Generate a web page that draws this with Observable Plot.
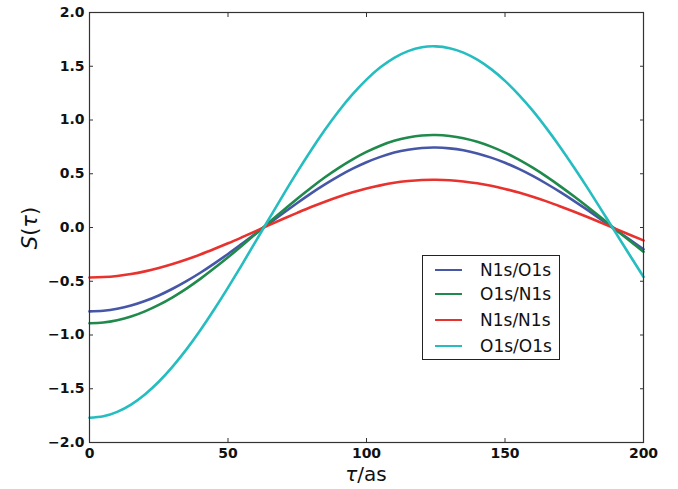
<!DOCTYPE html>
<html>
<head>
<meta charset="utf-8">
<script src="https://cdn.jsdelivr.net/npm/d3@7"></script>
<script src="https://cdn.jsdelivr.net/npm/@observablehq/plot@0.6"></script>
<style>
  html, body { margin: 0; padding: 0; background: #fff; }
  #wrap { position: relative; width: 678px; height: 489px; font-family: "DejaVu Sans", sans-serif; color: #111; }
  #wrap svg { position: absolute; left: 0; top: 0; }
  .ylab { position: absolute; left: 30px; top: 228px; transform: translate(-50%, -50%) rotate(-90deg); font-size: 21px; white-space: nowrap; line-height: 1; }
  .xlab { position: absolute; left: 366px; top: 464px; transform: translateX(-50%); font-size: 20px; white-space: nowrap; line-height: 1; }
  .legend { position: absolute; left: 422px; top: 255px; width: 136px; height: 103px; border: 1px solid #222; background: #fff; }
  .row { position: absolute; left: 0; height: 20px; font-size: 17px; line-height: 1; }
  .swatch { position: absolute; left: 12px; width: 27px; height: 0; border-top: 2.6px solid; top: 9px; }
  .lbl { position: absolute; left: 57px; top: 2px; white-space: nowrap; }
</style>
</head>
<body>
<div id="wrap"></div>
<script>
// tau in attoseconds
const tau = [0, 5, 10, 15, 20, 25, 30, 35, 40, 45, 50, 55, 60, 65, 70, 75, 80, 85, 90, 95, 100,
             105, 110, 115, 120, 125, 130, 135, 140, 145, 150, 155, 160, 165, 170, 175, 180, 185, 190, 195, 200];
// S(tau)
const n1sO1s = [-0.780, -0.774, -0.756, -0.726, -0.684, -0.632, -0.570, -0.499, -0.421, -0.336, -0.246, -0.152, -0.057, 0.040, 0.135, 0.228, 0.318, 0.401, 0.478, 0.547, 0.607,
                0.657, 0.697, 0.724, 0.740, 0.744, 0.736, 0.718, 0.689, 0.650, 0.602, 0.545, 0.480, 0.407, 0.329, 0.246, 0.159, 0.069, -0.022, -0.112, -0.202];
const o1sN1s = [-0.890, -0.883, -0.862, -0.828, -0.780, -0.720, -0.649, -0.568, -0.478, -0.380, -0.277, -0.169, -0.059, 0.051, 0.161, 0.268, 0.370, 0.467, 0.555, 0.634, 0.703,
                0.761, 0.806, 0.837, 0.856, 0.860, 0.851, 0.830, 0.797, 0.752, 0.697, 0.631, 0.556, 0.473, 0.383, 0.288, 0.188, 0.085, -0.019, -0.123, -0.226];
const n1sN1s = [-0.465, -0.461, -0.451, -0.433, -0.408, -0.377, -0.340, -0.298, -0.251, -0.200, -0.147, -0.091, -0.034, 0.024, 0.081, 0.136, 0.190, 0.240, 0.286, 0.327, 0.363,
                0.392, 0.416, 0.432, 0.442, 0.444, 0.440, 0.428, 0.411, 0.388, 0.359, 0.325, 0.286, 0.243, 0.196, 0.147, 0.095, 0.041, -0.013, -0.067, -0.120];
const o1sO1s = [-1.770, -1.756, -1.715, -1.647, -1.553, -1.435, -1.294, -1.134, -0.956, -0.763, -0.559, -0.347, -0.129, 0.089, 0.306, 0.517, 0.719, 0.909, 1.084, 1.240, 1.376,
                1.490, 1.579, 1.641, 1.677, 1.685, 1.668, 1.627, 1.561, 1.473, 1.364, 1.234, 1.087, 0.922, 0.745, 0.556, 0.359, 0.155, -0.050, -0.256, -0.459];

const seriesNames = ["N1s/O1s", "O1s/N1s", "N1s/N1s", "O1s/O1s"];
const seriesValues = [n1sO1s, o1sN1s, n1sN1s, o1sO1s];
const seriesColors = ["#4657a8", "#1f8a4c", "#e8322e", "#25bdc0"];

const xTicks = [0, 50, 100, 150, 200];
const yTicks = [-2.0, -1.5, -1.0, -0.5, 0.0, 0.5, 1.0, 1.5, 2.0];

const fmtY = d => d.toFixed(1).replace("-", "\u2212");

const lines = seriesValues.map((vals, s) =>
  Plot.line(tau.map((t, i) => ({tau: t, S: vals[i]})), {
    x: "tau", y: "S", stroke: seriesColors[s], strokeWidth: 2.6, curve: "natural"
  })
);

const chart = Plot.plot({
  width: 678,
  height: 489,
  marginLeft: 89,
  marginRight: 35,
  marginTop: 12,
  marginBottom: 47,
  style: { fontFamily: "DejaVu Sans", fontSize: "14px", fontWeight: "bold", color: "#111", background: "transparent" },
  x: { domain: [0, 200] },
  y: { domain: [-2, 2] },
  marks: [
    ...lines,
    Plot.frame({ stroke: "#333", strokeWidth: 1.2 }),
    Plot.axisX(xTicks, { anchor: "bottom", tickSize: 0, tickPadding: 6, tickFormat: d => String(d), label: null, fontSize: 14, fontWeight: "bold" }),
    Plot.axisY(yTicks, { anchor: "left", tickSize: 0, tickPadding: 5, tickFormat: fmtY, label: null, fontSize: 14, fontWeight: "bold" }),
    Plot.axisX(xTicks, { anchor: "bottom", tickSize: -4, tickFormat: () => "", label: null, stroke: "#333" }),
    Plot.axisX(xTicks, { anchor: "top", tickSize: -4, tickFormat: () => "", label: null, stroke: "#333" }),
    Plot.axisY(yTicks, { anchor: "left", tickSize: -4, tickFormat: () => "", label: null, stroke: "#333" }),
    Plot.axisY(yTicks, { anchor: "right", tickSize: -4, tickFormat: () => "", label: null, stroke: "#333" })
  ]
});

const wrap = document.getElementById("wrap");
wrap.appendChild(chart);

const ylab = document.createElement("div");
ylab.className = "ylab";
ylab.innerHTML = '<i>S</i>(<i>\u03C4</i>)';
wrap.appendChild(ylab);

const xlab = document.createElement("div");
xlab.className = "xlab";
xlab.innerHTML = '<i>\u03C4</i>/as';
wrap.appendChild(xlab);

const legend = document.createElement("div");
legend.className = "legend";
const rowTops = [4, 28, 54, 80];
seriesNames.forEach((name, i) => {
  const row = document.createElement("div");
  row.className = "row";
  row.style.top = rowTops[i] + "px";
  row.style.width = "136px";
  const sw = document.createElement("div");
  sw.className = "swatch";
  sw.style.borderTopColor = seriesColors[i];
  const lb = document.createElement("div");
  lb.className = "lbl";
  lb.textContent = name;
  row.appendChild(sw);
  row.appendChild(lb);
  legend.appendChild(row);
});
wrap.appendChild(legend);
</script>
</body>
</html>
